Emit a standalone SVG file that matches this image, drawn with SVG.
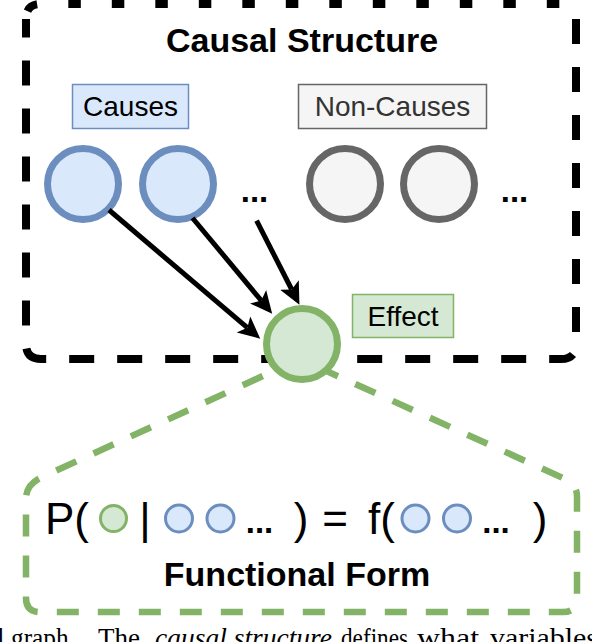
<svg xmlns="http://www.w3.org/2000/svg" width="592" height="642" viewBox="0 0 592 642">
<style>
.t{font-family:"Liberation Sans",Arial,sans-serif;fill:#000}
.title{font-size:34px;font-weight:bold;text-anchor:middle}
.lbl{font-size:28px;text-anchor:middle}
.dots{font-size:33px;font-weight:bold;text-anchor:middle}
.f{font-size:44px}
.blue{fill:#dae8fc;stroke:#6c8ebf}
.gray{fill:#f5f5f5;stroke:#666666}
.green{fill:#d5e8d4;stroke:#82b366}
.big{stroke-width:7}
.small{stroke-width:3}
.arrow{stroke:#000;stroke-width:5;fill:none;marker-end:url(#ah)}
.cap{font-family:"Liberation Serif","Times New Roman",serif;font-size:27px;fill:#000}
.it{font-style:italic}
</style>
<defs>
<marker id="ah" markerUnits="userSpaceOnUse" markerWidth="30" markerHeight="30" viewBox="0 -15 30 30" refX="5" refY="0" orient="auto">
<path d="M0,-10.5 L22,0 L0,10.5 L5,0 Z" fill="#000"/>
</marker>
</defs>
<rect width="592" height="642" fill="#fff"/>

<g id="causal-structure">
<path d="M26,19 Q26,4 41,4 L561,4 Q576,4 576,19" fill="none" stroke="#000" stroke-width="8" stroke-dasharray="12.5 31" stroke-dashoffset="-8"/>
<path d="M576,19 L576,344 Q576,359 561,359 L41,359 Q26,359 26,344 L26,19" fill="none" stroke="#000" stroke-width="8" stroke-dasharray="25 23"/>
<text class="t title" x="302" y="52">Causal Structure</text>
</g>

<g id="functional-form">
<path d="M300,359 L40,478 Q26,485 26,499 L26,598 Q26,612 40,612 L563,612 Q577,612 577,598 L577,496 Q577,484 563,478 Z" fill="none" stroke="#82b366" stroke-width="6.5" stroke-dasharray="22 19"/>
<text class="t f" x="45" y="534">P(</text>
<circle class="green small" cx="113.5" cy="518.5" r="13"/>
<text class="t f" x="145" y="534" text-anchor="middle">|</text>
<circle class="blue small" cx="179" cy="518.5" r="13.5"/>
<circle class="blue small" cx="220.5" cy="518.5" r="13.5"/>
<text class="t dots" x="259.5" y="533">...</text>
<text class="t f" x="301" y="534" text-anchor="middle">)</text>
<text class="t f" x="335" y="534" text-anchor="middle">=</text>
<text class="t f" x="368" y="534">f(</text>
<circle class="blue small" cx="415.5" cy="518.5" r="13.5"/>
<circle class="blue small" cx="457" cy="518.5" r="13.5"/>
<text class="t dots" x="496" y="533">...</text>
<text class="t f" x="540" y="534" text-anchor="middle">)</text>
<text class="t title" x="297" y="586">Functional Form</text>
</g>

<g id="causes-label">
<rect class="blue" x="72.5" y="84.5" width="116" height="44" stroke-width="1.5"/>
<text class="t lbl" x="130.5" y="116">Causes</text>
</g>
<g id="non-causes-label">
<rect class="gray" x="298.5" y="84.5" width="188" height="44" stroke-width="1.5"/>
<text class="t lbl" x="392.5" y="116" style="fill:#333">Non-Causes</text>
</g>

<g id="cause-1"><circle class="blue big" cx="83" cy="184" r="35.5"/></g>
<g id="cause-2"><circle class="blue big" cx="178" cy="184" r="35.5"/></g>
<g id="cause-dots"><text class="t dots" x="254.5" y="202">...</text></g>
<g id="noncause-1"><circle class="gray big" cx="345" cy="184" r="35.5"/></g>
<g id="noncause-2"><circle class="gray big" cx="439" cy="184" r="35.5"/></g>
<g id="noncause-dots"><text class="t dots" x="514.5" y="202">...</text></g>

<g id="connectors">
<path class="arrow" d="M109,210 L247.3,327.7"/>
<path class="arrow" d="M192.5,218 L261.3,300.6"/>
<path class="arrow" d="M256.6,220.7 L291.7,289.5"/>
</g>

<g id="effect">
<circle class="green big" cx="302" cy="344" r="35.5"/>
</g>
<g id="effect-label">
<rect class="green" x="352.5" y="294.5" width="101" height="43" stroke-width="1.5"/>
<text class="t lbl" x="403" y="326">Effect</text>
</g>

<g id="caption">
<text class="cap" x="-3" y="647">l</text>
<text class="cap" x="11" y="647" textLength="64" lengthAdjust="spacingAndGlyphs">graph.</text>
<text class="cap" x="98" y="647" textLength="42" lengthAdjust="spacingAndGlyphs">The</text>
<text class="cap it" x="155" y="647" textLength="177" lengthAdjust="spacingAndGlyphs">causal structure</text>
<text class="cap" x="341" y="647" textLength="67" lengthAdjust="spacingAndGlyphs">defines</text>
<text class="cap" x="417" y="647" textLength="62" lengthAdjust="spacingAndGlyphs">what</text>
<text class="cap" x="490" y="647" textLength="108" lengthAdjust="spacingAndGlyphs">variables</text>
</g>
</svg>
